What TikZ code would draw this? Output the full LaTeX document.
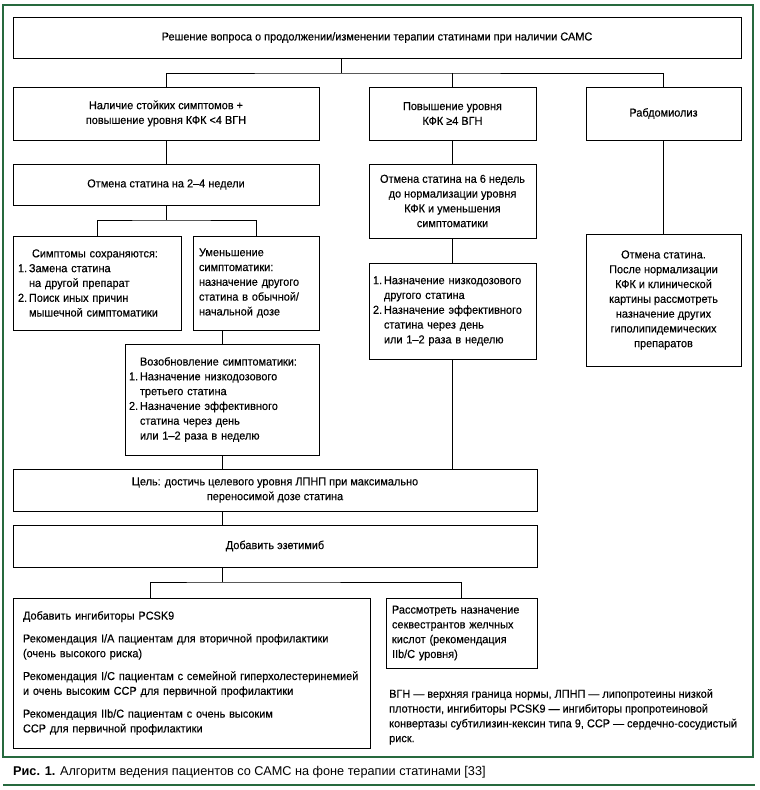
\documentclass[tikz,border=0pt]{standalone}
\usepackage{fontspec}
\setmainfont{Liberation Sans}[FakeStretch=0.95,FakeBold=0.3]
\newfontfamily\capfont{Liberation Sans}
\usetikzlibrary{calc}
\definecolor{framegreen}{RGB}{38,105,62}
\newcommand\fsz{\fontsize{11.5}{14.8}\selectfont}
\newcommand\itm[1]{\makebox[11pt][l]{#1}}
\begin{document}
\begin{tikzpicture}[x=1pt,y=-1pt,
  box/.style={draw,line width=1pt,inner sep=0pt,font=\fsz,align=center},
  lbox/.style={box,align=left},
  conn/.style={line width=1pt},
  note/.style={inner sep=0pt,font=\fsz,align=left}]
\useasboundingbox (0,0) rectangle (760,790);
\draw[framegreen,line width=1.2pt] (3,5) rectangle (753,757);
\draw[framegreen,line width=1.2pt] (3,785) -- (755,785);

\node[box,minimum width=728,minimum height=41] (top) at (377,37.5)
  {Решение вопроса о продолжении/изменении терапии статинами при наличии САМС};

\node[box,minimum width=306,minimum height=53] (A) at (166,113.5)
  {Наличие стойких симптомов +\\повышение уровня КФК <4 ВГН};
\node[box,minimum width=167,minimum height=53] (B) at (452.5,113.5)
  {Повышение уровня\\КФК ≥4 ВГН};
\node[box,minimum width=155,minimum height=53] (C) at (663.5,113.5)
  {Рабдомиолиз};

\node[box,minimum width=306,minimum height=41] (A2) at (166,184.5)
  {Отмена статина на 2–4 недели};
\node[box,minimum width=167,minimum height=74] (B2) at (452.5,201)
  {Отмена статина на 6 недель\\до нормализации уровня\\КФК и уменьшения\\симптоматики};
\node[box,minimum width=155,minimum height=132] (C2) at (663.5,300)
  {Отмена статина.\\После нормализации\\КФК и клинической\\картины рассмотреть\\назначение других\\гиполипидемических\\препаратов};

\node[lbox,minimum width=168,minimum height=94,text width=158,inner xsep=5] (A3) at (97,283)
  {\hspace*{14pt}Симптомы сохраняются:\\\itm{1.}Замена статина\\\itm{}на другой препарат\\\itm{2.}Поиск иных причин\\\itm{}мышечной симптоматики};
\node[lbox,minimum width=126,minimum height=94,text width=114,inner xsep=6] (A4) at (256,283)
  {Уменьшение\\симптоматики:\\назначение другого\\статина в обычной/\\начальной дозе};
\node[lbox,minimum width=194,minimum height=111,text width=186,inner xsep=4] (A5) at (222,399.5)
  {\itm{}Возобновление симптоматики:\\\itm{1.}Назначение низкодозового\\\itm{}третьего статина\\\itm{2.}Назначение эффективного\\\itm{}статина через день\\\itm{}или 1–2 раза в неделю};
\node[lbox,minimum width=167,minimum height=96,text width=159,inner xsep=4] (B3) at (452.5,311)
  {\itm{1.}Назначение низкодозового\\\itm{}другого статина\\\itm{2.}Назначение эффективного\\\itm{}статина через день\\\itm{}или 1–2 раза в неделю};

\node[box,minimum width=524,minimum height=42] (goal) at (275,490)
  {Цель: достичь целевого уровня ЛПНП при максимально\\переносимой дозе статина};
\node[box,minimum width=524,minimum height=42] (ezet) at (275,546)
  {Добавить эзетимиб};

\node[lbox,minimum width=357,minimum height=150,text width=337,inner xsep=10] (P) at (191.5,673)
  {Добавить ингибиторы PCSK9\\[8pt]
   Рекомендация I/A пациентам для вторичной профилактики\\(очень высокого риска)\\[8pt]
   \mbox{Рекомендация I/C пациентам с семейной гиперхолестеринемией}\\и очень высоким ССР для первичной профилактики\\[8pt]
   Рекомендация IIb/C пациентам с очень высоким\\ССР для первичной профилактики};
\node[lbox,minimum width=151,minimum height=70,text width=139,inner xsep=6] (R) at (461.5,633)
  {Рассмотреть назначение\\секвестрантов желчных\\кислот (рекомендация\\IIb/C уровня)};

\node[note,anchor=north west] (fn) at (389,689)
  {ВГН — верхняя граница нормы, ЛПНП — липопротеины низкой\\плотности, ингибиторы PCSK9 — ингибиторы пропротеиновой\\конвертазы субтилизин-кексин типа 9, ССР — сердечно-сосудистый\\риск.};

\node[inner sep=0pt,anchor=west,font=\capfont\fontsize{12.7}{14}\selectfont] (cap) at (13,772)
  {\textbf{Рис. 1.} Алгоритм ведения пациентов со САМС на фоне терапии статинами [33]};

% connectors
\coordinate (jt) at (341,73);
\draw[conn] (jt) -- (jt |- top.south);
\draw[conn] (A.north) |- (jt) -| (C.north);
\draw[conn] (B.north) -- (B.north |- jt);
\draw[conn] (A.south) -- (A2.north);
\draw[conn] (B.south) -- (B2.north);
\draw[conn] (C.south) -- (C2.north);
\coordinate (ja) at (166,220);
\draw[conn] (A2.south) -- (ja);
\draw[conn] (A3.north) |- (ja) -| (A4.north);
\draw[conn] (A5.north) -- (A5.north |- A4.south);
\draw[conn] (A5.south) -- (A5.south |- goal.north);
\draw[conn] (B2.south) -- (B3.north);
\draw[conn] (B3.south) -- (B3.south |- goal.north);
\draw[conn] (goal.south -| A5.south) -- (ezet.north -| A5.south);
\coordinate (je) at (222,582);
\coordinate (jl) at (150,582);
\draw[conn] (ezet.south -| je) -- (je);
\draw[conn] (jl |- P.north) -- (jl) -- (je) -| (R.north);
\end{tikzpicture}
\end{document}
